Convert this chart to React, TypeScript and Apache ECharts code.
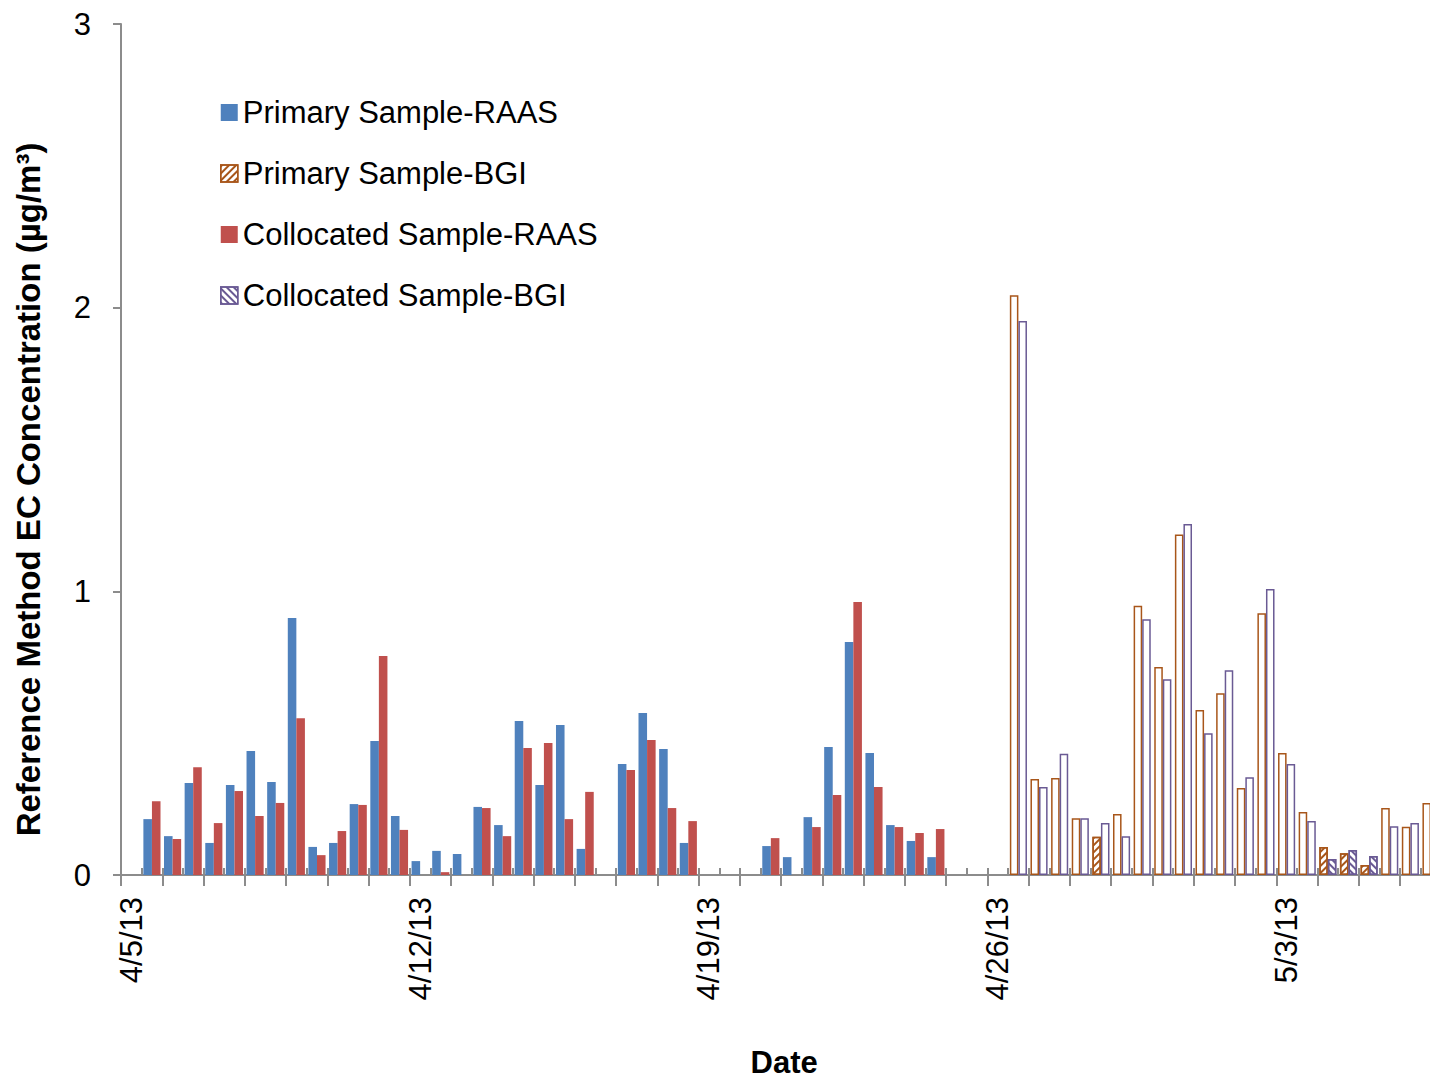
import { useEffect, useRef } from 'react';
import * as echarts from 'echarts';

// half-day slots starting 4/5/13 00:00 (64 slots)
const SLOT_COUNT = 64;
const DAY_LABELS: Record<number, string> = { 0: '4/5/13', 14: '4/12/13', 28: '4/19/13', 42: '4/26/13', 56: '5/3/13' };

type V = number | null;
const primaryRAAS: V[] = [
  null, 0.197, 0.137, 0.324, 0.113, 0.317, 0.437, 0.328, 0.906, 0.099, 0.113, 0.25, 0.472, 0.208, 0.049, 0.085,
  0.074, 0.24, 0.176, 0.543, 0.317, 0.529, 0.092, null, 0.391, 0.571, 0.444, 0.113, null, null, null, 0.102,
  0.063, 0.204, 0.451, 0.821, 0.43, 0.176, 0.12, 0.063,
];
const collocatedRAAS: V[] = [
  null, 0.26, 0.127, 0.38, 0.183, 0.296, 0.208, 0.254, 0.553, 0.07, 0.155, 0.247, 0.772, 0.159, null, 0.01,
  null, 0.236, 0.137, 0.448, 0.465, 0.197, 0.293, null, 0.37, 0.476, 0.236, 0.19, null, null, null, 0.13,
  null, 0.169, 0.282, 0.962, 0.31, 0.169, 0.148, 0.162,
];
const bgiStart = 43;
const primaryBGI: V[] = [
  2.044, 0.338, 0.342, 0.2, 0.135, 0.215, 0.949, 0.733, 1.2, 0.582, 0.641, 0.307, 0.923, 0.43, 0.222, 0.099,
  0.077, 0.035, 0.236, 0.17, 0.254,
];
const collocatedBGI: V[] = [
  1.953, 0.31, 0.427, 0.2, 0.183, 0.137, 0.902, 0.69, 1.237, 0.5, 0.722, 0.345, 1.008, 0.391, 0.19, 0.056,
  0.088, 0.067, 0.172, 0.183, null,
];
// slots whose BGI values are drawn hatched
const hatchedPrimary = [47, 58, 59, 60];
const hatchedCollocated = [58, 59, 60];

const BLUE = '#4F81BD';
const RED = '#C0504D';
const ORANGE = '#A8561A';
const PURPLE = '#6A5A94';
const FONT = '"Liberation Sans", Arial, sans-serif';

const hatch = (color: string, dir: number) => ({
  symbol: 'rect',
  symbolSize: 1,
  dashArrayX: [1, 0],
  dashArrayY: [2, 3],
  rotation: dir * Math.PI / 4,
  color,
  backgroundColor: '#fff',
});

export default function App() {
  const ref = useRef<HTMLDivElement>(null);

  useEffect(() => {
    document.body.style.margin = '0';
    document.body.style.overflow = 'hidden';
    if (!ref.current) return;
    const chart = echarts.init(ref.current, undefined, { renderer: 'svg' });

    const slots = Array.from({ length: SLOT_COUNT }, (_, i) => DAY_LABELS[i] ?? '');
    const fill = (arr: V[]) => slots.map((_, i) => arr[i] ?? null);
    const bgi = (arr: V[], color: string, hatched: number[], dir: number) =>
      slots.map((_, i) => {
        const v = i >= bgiStart ? arr[i - bgiStart] : null;
        if (v == null) return null;
        return hatched.includes(i)
          ? { value: v, itemStyle: { color: '#fff', decal: hatch(color, dir) } }
          : v;
      });

    const hollow = (color: string) => ({ color: '#fff', borderColor: color, borderWidth: 1.5 });
    const tickStyle = { color: '#8c8c8c', width: 2 };

    chart.setOption({
      animation: false,
      textStyle: { fontFamily: FONT },
      legend: {
        orient: 'vertical',
        left: 215,
        top: 92,
        itemGap: 30,
        itemWidth: 17,
        itemHeight: 17,
        icon: 'rect',
        textStyle: { fontSize: 31, color: '#000', fontFamily: FONT },
        data: [
          { name: 'Primary Sample-RAAS' },
          { name: 'Primary Sample-BGI', itemStyle: { color: '#fff', borderColor: ORANGE, borderWidth: 1.5, decal: hatch(ORANGE, -1) } },
          { name: 'Collocated Sample-RAAS' },
          { name: 'Collocated Sample-BGI', itemStyle: { color: '#fff', borderColor: PURPLE, borderWidth: 1.5, decal: hatch(PURPLE, 1) } },
        ],
      },
      grid: { left: 121, top: 24, width: SLOT_COUNT * 20.63, height: 851, outerBoundsMode: 'none', containLabel: false },
      xAxis: [
        {
          type: 'category',
          data: slots,
          name: 'Date',
          nameLocation: 'middle',
          nameGap: 172,
          nameTextStyle: { fontSize: 31, fontWeight: 'bold', color: '#000', fontFamily: FONT, padding: [0, 0, 0, 6] },
          axisLine: { lineStyle: tickStyle },
          axisTick: { show: true, length: 11, lineStyle: tickStyle, interval: (i: number) => i % 2 === 0 },
          axisLabel: { interval: 0, rotate: 90, fontSize: 31, color: '#000', margin: 22, fontFamily: FONT },
        },
        {
          type: 'category',
          data: slots,
          position: 'bottom',
          axisLine: { show: false },
          axisTick: { show: true, inside: true, length: 7, interval: 0, lineStyle: tickStyle },
          axisLabel: { show: false },
        },
      ],
      yAxis: {
        type: 'value',
        min: 0,
        max: 3,
        interval: 1,
        name: 'Reference Method EC Concentration (µg/m³)',
        nameLocation: 'middle',
        nameGap: 76,
        nameTextStyle: { fontSize: 33, fontWeight: 'bold', color: '#000', fontFamily: FONT, padding: [0, 0, 0, -80] },
        splitLine: { show: false },
        axisLine: { show: true, lineStyle: tickStyle },
        axisTick: { show: true, length: 8, lineStyle: tickStyle },
        axisLabel: { fontSize: 31, color: '#000', margin: 30, fontFamily: FONT },
      },
      series: [
        {
          name: 'Primary Sample-RAAS', type: 'bar', stack: 'p', barGap: '0%', barCategoryGap: '17%',
          itemStyle: { color: BLUE }, data: fill(primaryRAAS),
        },
        {
          name: 'Collocated Sample-RAAS', type: 'bar', stack: 'c', barGap: '0%', barCategoryGap: '17%',
          itemStyle: { color: RED }, data: fill(collocatedRAAS),
        },
        {
          name: 'Primary Sample-BGI', type: 'bar', stack: 'p',
          itemStyle: hollow(ORANGE), data: bgi(primaryBGI, ORANGE, hatchedPrimary, -1),
        },
        {
          name: 'Collocated Sample-BGI', type: 'bar', stack: 'c',
          itemStyle: hollow(PURPLE), data: bgi(collocatedBGI, PURPLE, hatchedCollocated, 1),
        },
      ],
    });

    return () => chart.dispose();
  }, []);

  return <div ref={ref} style={{ width: 1460, height: 1080 }} />;
}
